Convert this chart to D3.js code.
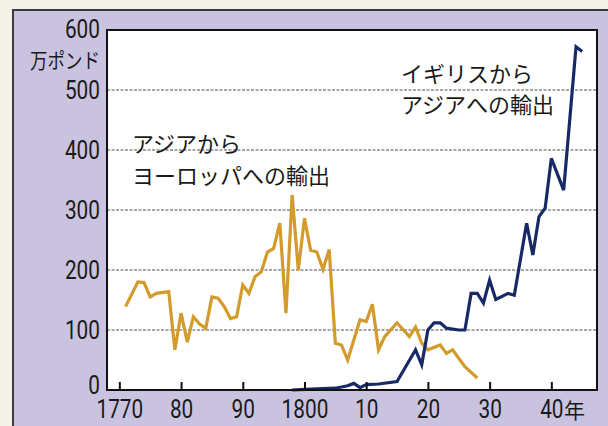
<!DOCTYPE html>
<html><head><meta charset="utf-8">
<script src="https://cdn.jsdelivr.net/npm/d3@7/dist/d3.min.js"></script>
<style>
body{margin:0;background:#f4f1e9;}
svg{display:block}
</style>
</head><body>
<svg id="chart" width="608" height="426"></svg>
<script>
// ---- data (万ポンド) ----
const asiaYears  = [1771,1773,1774,1775,1776,1778,1779,1780,1781,1782,1783,1784,1785,1786,1787,1788,1789,1790,1791,1792,1793,1794,1795,1796,1797,1798,1799,1800,1801,1802,1803,1804,1805,1806,1807,1809,1810,1811,1812,1813,1815,1817,1818,1819,1820,1822,1823,1824,1825,1826,1828];
const asiaValues = [139,180,179,155,161,164,67,128,80,122,110,103,155,153,139,119,122,175,161,189,197,230,236,278,128,325,200,286,233,230,201,234,78,75,50,117,114,143,67,89,112,89,105,78,67,75,61,67,53,39,20];

const ukYears  = [1798,1800,1805,1807,1808,1809,1810,1812,1815,1818,1819,1820,1821,1822,1823,1825,1826,1827,1828,1829,1830,1831,1833,1834,1836,1837,1838,1839,1840,1842,1844,1845];
const ukValues = [0,1,3,7,11,4,9,10,14,67,42,100,112,112,103,100,100,161,161,145,183,151,161,158,278,225,289,303,386,333,572,564];

const tickYears  = [1770,1780,1790,1800,1810,1820,1830,1840];
const tickLabels = ["1770","80","90","1800","10","20","30","40"];
const yTickValues = [0,100,200,300,400,500,600];
const gridValues  = [100,200,300,400,500];

const yUnit = "万ポンド";
const yearSuffix = "年";
const asiaLabel = ["アジアから","ヨーロッパへの輸出"];
const ukLabel   = ["イギリスから","アジアへの輸出"];

// ---- layout ----
const W = 608, H = 426;
const plot = {left:107, right:597, top:30, bottom:390};
const numFont = "Roboto, 'Liberation Sans', sans-serif";
const jpFont  = "'Noto Sans CJK JP','Noto Sans CJK SC',sans-serif";
const sx = 0.8; // horizontal condensing of the digits
const numSize = 26;

const svg = d3.select("#chart");

// outer lavender frame
svg.append("rect").attr("x",0).attr("y",0).attr("width",W).attr("height",H).attr("fill","#f4f1e9");
svg.append("rect").attr("x",13).attr("y",10).attr("width",W-13+5).attr("height",H-10+5)
  .attr("fill","#c9c3e0").attr("stroke","#3a3a44").attr("stroke-width",2);

const x = d3.scaleLinear().domain([1768, 1847.4]).range([plot.left, plot.right]);
const y = d3.scaleLinear().domain([0, 600]).range([plot.bottom, plot.top]);

// plot background
svg.append("rect").attr("x",plot.left).attr("y",plot.top)
  .attr("width",plot.right-plot.left).attr("height",plot.bottom-plot.top)
  .attr("fill","#ffffff");

// grid
svg.append("g").selectAll("line").data(gridValues).join("line")
  .attr("x1",plot.left).attr("x2",plot.right)
  .attr("y1",d=>y(d)).attr("y2",d=>y(d))
  .attr("stroke","#8a8a8a").attr("stroke-width",1.4).attr("stroke-dasharray","3,1.5");

// lines
const line = d3.line().x(d=>x(d[0])).y(d=>y(d[1]));
svg.append("path").datum(d3.zip(asiaYears, asiaValues))
  .attr("d", line).attr("fill","none").attr("stroke","#d39a2c")
  .attr("stroke-width",3.2).attr("stroke-linejoin","miter");
svg.append("path").datum(d3.zip(ukYears, ukValues))
  .attr("d", line).attr("fill","none").attr("stroke","#182a66")
  .attr("stroke-width",3.2).attr("stroke-linejoin","miter");

// plot border
svg.append("rect").attr("x",plot.left).attr("y",plot.top)
  .attr("width",plot.right-plot.left).attr("height",plot.bottom-plot.top)
  .attr("fill","none").attr("stroke","#111").attr("stroke-width",2);

// x axis
const xPad = 10;
const xAxis = d3.axisBottom(x).tickValues(tickYears)
  .tickFormat((d,i)=>tickLabels[i]).tickSizeInner(-8).tickSizeOuter(0).tickPadding(xPad);
const gx = svg.append("g").attr("transform",`translate(0,${plot.bottom})`).call(xAxis);
gx.select(".domain").remove();
gx.selectAll(".tick line").attr("stroke","#111").attr("stroke-width",2);
gx.selectAll(".tick text").attr("font-family",numFont).attr("font-size",numSize).attr("fill","#1a1a1a")
  .attr("transform",`scale(${sx},1)`);
// 年 suffix after the last label
const lastText = gx.selectAll(".tick text").filter((d,i)=>i===tickYears.length-1);
const lastW = lastText.node().getComputedTextLength()*sx;
svg.append("text").attr("x", x(tickYears[tickYears.length-1]) + lastW/2 + 1)
  .attr("y", plot.bottom + xPad + numSize*0.71)
  .attr("font-family",jpFont).attr("font-size",21).attr("fill","#1a1a1a")
  .text(yearSuffix);

// y axis
const yAxis = d3.axisLeft(y).tickValues(yTickValues).tickSize(0).tickPadding(7);
const gy = svg.append("g").attr("transform",`translate(${plot.left},0)`).call(yAxis);
gy.select(".domain").remove();
gy.selectAll(".tick text").attr("font-family",numFont).attr("font-size",numSize).attr("fill","#1a1a1a")
  .attr("x", -7/sx).attr("transform",`scale(${sx},1)`)
  .attr("dy", d => d===0 ? "0.12em" : (d===600 ? "0.3em" : "0.34em"));

// unit
svg.append("text").attr("x",100).attr("y",68).attr("text-anchor","end")
  .attr("font-family",jpFont).attr("font-size",21).attr("fill","#1a1a1a")
  .attr("textLength",70).attr("lengthAdjust","spacingAndGlyphs").text(yUnit);

// annotations
const ann = (lines, x0, y0, lh) => {
  const t = svg.append("text").attr("font-family",jpFont).attr("font-size",22).attr("fill","#1a1a1a");
  lines.forEach((s,i)=>t.append("tspan").attr("x",x0).attr("y",y0+i*lh).text(s));
};
ann(asiaLabel, 132, 152, 32);
ann(ukLabel, 401, 82, 31);
</script>
</body></html>
